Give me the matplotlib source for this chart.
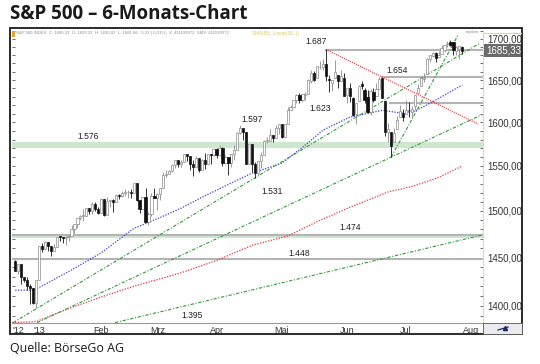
import numpy as np
import pandas as pd
import matplotlib
matplotlib.use('Agg')
import matplotlib.pyplot as plt
from matplotlib.ticker import FixedLocator, NullFormatter
from matplotlib.patches import Rectangle
from matplotlib.lines import Line2D

# Handelstage 19.12.2012 - 29.07.2013
holidays = ['2012-12-25', '2013-01-01', '2013-01-21', '2013-02-18',
            '2013-03-29', '2013-05-27', '2013-07-04']
dates = pd.bdate_range('2012-12-19', '2013-07-29').drop(pd.to_datetime(holidays))

# Tageskerzen S&P 500 (Dez, Jan, Feb, Mrz, Apr, Mai, Jun, Jul)
opens = [1446.79, 1435.81, 1443.67, 1430.15, 1426.66, 1419.83, 1418.10, 1402.43,
         1426.19, 1462.42, 1459.37, 1466.47, 1461.89, 1457.15, 1461.02, 1472.12, 1472.05, 1470.67, 1472.33,
         1472.63, 1480.95, 1485.98, 1492.56, 1494.81, 1494.82, 1502.96, 1500.18, 1507.84, 1501.96,
         1498.11, 1513.17, 1495.71, 1511.29, 1512.12, 1509.39, 1517.93, 1517.01, 1519.43, 1520.33,
         1521.38, 1519.79, 1530.94, 1511.95, 1502.42, 1515.60, 1487.85, 1496.94, 1515.99,
         1514.68, 1518.20, 1525.20, 1539.79, 1541.46, 1544.26, 1551.15, 1556.22, 1552.48, 1554.52,
         1563.21, 1560.70, 1552.10, 1548.34, 1558.71, 1545.90, 1556.89, 1551.69, 1563.75, 1562.86,
         1569.18, 1562.17, 1570.25, 1553.69, 1559.98, 1553.26, 1563.11, 1568.61, 1587.73, 1593.30, 1588.84,
         1552.36, 1574.57, 1552.03, 1541.61, 1555.25, 1562.50, 1578.78, 1578.78, 1585.16, 1582.34, 1593.58,
         1597.55, 1582.77, 1597.60, 1614.40, 1617.55, 1625.95, 1632.69, 1626.69, 1632.10, 1633.75, 1649.13,
         1658.07, 1652.45, 1665.71, 1666.20, 1669.39, 1651.62, 1646.67, 1652.63, 1656.57, 1649.14, 1652.13,
         1631.71, 1640.73, 1629.05, 1609.29, 1625.27, 1644.67, 1638.64, 1629.94, 1612.15, 1635.52,
         1630.64, 1639.77, 1651.83, 1624.62, 1588.62, 1588.77, 1577.52, 1592.27, 1606.44, 1611.12,
         1609.78, 1614.29, 1611.48, 1618.65, 1634.20, 1642.89, 1651.56, 1657.41, 1675.26, 1679.59,
         1682.70, 1677.91, 1681.05, 1686.15, 1694.41, 1696.63, 1695.95, 1685.21, 1687.31, 1690.32]
highs = [1447.75, 1443.70, 1443.67, 1430.15, 1429.42, 1422.80, 1418.10, 1426.74,
         1462.43, 1465.47, 1467.94, 1466.47, 1461.89, 1464.73, 1472.30, 1472.75, 1472.05, 1473.31, 1473.96,
         1485.16, 1485.98, 1492.56, 1496.13, 1502.27, 1503.26, 1503.23, 1509.94, 1509.94, 1504.19,
         1514.41, 1513.17, 1514.96, 1512.53, 1512.90, 1518.31, 1518.31, 1522.29, 1524.69, 1523.14,
         1524.24, 1530.94, 1530.94, 1511.95, 1515.64, 1525.84, 1498.99, 1520.08, 1525.34,
         1519.99, 1525.27, 1543.47, 1545.25, 1545.78, 1552.48, 1556.27, 1556.77, 1556.39, 1563.32,
         1563.62, 1560.70, 1557.25, 1561.56, 1558.71, 1557.74, 1564.91, 1563.95, 1564.07, 1570.28,
         1570.57, 1573.66, 1571.47, 1562.60, 1559.98, 1563.07, 1573.89, 1589.07, 1597.35, 1593.30, 1588.84,
         1575.35, 1574.57, 1554.38, 1555.89, 1565.55, 1579.58, 1583.00, 1592.64, 1585.78, 1596.65, 1597.57,
         1597.55, 1598.60, 1618.46, 1619.77, 1626.03, 1632.78, 1635.01, 1633.70, 1636.00, 1651.10, 1661.49,
         1660.51, 1667.47, 1672.84, 1674.93, 1687.18, 1655.50, 1649.78, 1674.21, 1656.57, 1661.91, 1658.99,
         1640.42, 1646.53, 1629.31, 1622.56, 1644.40, 1648.69, 1640.13, 1637.71, 1639.25, 1640.80,
         1646.50, 1654.19, 1652.45, 1624.62, 1599.19, 1588.77, 1593.79, 1606.83, 1620.07, 1615.94,
         1626.61, 1624.26, 1618.97, 1632.07, 1644.68, 1654.18, 1657.92, 1676.63, 1680.19, 1684.51,
         1683.73, 1684.75, 1693.12, 1692.09, 1697.61, 1698.78, 1695.95, 1690.94, 1691.85, 1690.92]
lows = [1435.80, 1432.82, 1422.58, 1424.66, 1416.43, 1401.80, 1401.58, 1398.11,
        1426.19, 1455.53, 1458.99, 1456.62, 1451.64, 1457.15, 1461.02, 1467.58, 1465.69, 1463.76, 1467.60,
        1472.63, 1475.81, 1481.16, 1489.90, 1489.46, 1494.82, 1496.33, 1496.88, 1500.11, 1496.76,
        1498.11, 1495.02, 1495.71, 1504.71, 1498.49, 1509.39, 1513.61, 1515.61, 1515.93, 1514.02,
        1514.14, 1519.79, 1511.41, 1497.29, 1502.42, 1487.85, 1485.01, 1494.88, 1514.46,
        1501.48, 1512.29, 1525.20, 1538.11, 1541.46, 1542.94, 1547.36, 1548.24, 1548.25, 1554.52,
        1555.74, 1545.13, 1538.57, 1548.34, 1543.55, 1545.90, 1546.22, 1551.69, 1551.90, 1561.08,
        1558.47, 1562.17, 1549.80, 1552.52, 1539.50, 1548.63, 1557.00, 1568.61, 1586.17, 1579.97, 1552.28,
        1552.36, 1543.69, 1536.03, 1539.40, 1548.19, 1562.50, 1575.80, 1578.78, 1577.56, 1582.34, 1586.50,
        1581.28, 1582.77, 1597.60, 1614.21, 1616.64, 1622.70, 1623.09, 1623.71, 1626.74, 1633.75, 1646.68,
        1648.60, 1652.45, 1663.52, 1662.67, 1648.86, 1635.53, 1636.88, 1652.63, 1640.05, 1648.61, 1630.74,
        1622.72, 1623.62, 1607.09, 1598.23, 1625.27, 1639.26, 1622.92, 1610.92, 1608.07, 1623.96,
        1630.34, 1639.77, 1628.91, 1584.32, 1577.70, 1560.33, 1577.09, 1592.27, 1606.44, 1601.06,
        1609.78, 1606.77, 1604.57, 1614.71, 1634.20, 1642.89, 1647.66, 1657.41, 1672.33, 1677.89,
        1671.84, 1677.91, 1681.05, 1684.08, 1690.67, 1691.13, 1680.89, 1680.07, 1676.03, 1681.86]
closes = [1435.81, 1443.69, 1430.15, 1426.66, 1419.83, 1418.10, 1402.43, 1426.19,
          1462.42, 1459.37, 1466.47, 1461.89, 1457.15, 1461.02, 1472.12, 1472.05, 1470.68, 1472.34, 1472.63,
          1480.94, 1485.98, 1492.56, 1494.81, 1494.82, 1502.96, 1500.18, 1507.84, 1501.96, 1498.11,
          1513.17, 1495.71, 1511.29, 1512.12, 1509.39, 1517.93, 1517.01, 1519.43, 1520.33, 1521.38,
          1519.79, 1530.94, 1511.95, 1502.42, 1515.60, 1487.85, 1496.94, 1515.99, 1514.68,
          1518.20, 1525.20, 1539.79, 1541.46, 1544.26, 1551.18, 1556.22, 1552.48, 1554.52, 1563.23,
          1560.70, 1552.10, 1548.34, 1558.71, 1545.80, 1556.89, 1551.69, 1563.77, 1562.85, 1569.19,
          1562.17, 1570.25, 1553.69, 1559.98, 1553.28, 1563.07, 1568.61, 1587.73, 1593.37, 1588.85, 1552.36,
          1574.57, 1552.01, 1541.61, 1555.25, 1562.50, 1578.78, 1578.79, 1585.16, 1582.24, 1593.61, 1597.57,
          1582.70, 1597.59, 1614.42, 1617.50, 1625.96, 1632.69, 1626.67, 1633.70, 1633.77, 1650.34, 1658.78,
          1650.47, 1667.47, 1666.29, 1669.16, 1655.35, 1650.51, 1649.60, 1660.06, 1648.36, 1654.41, 1630.74,
          1640.42, 1631.38, 1608.90, 1622.56, 1643.38, 1642.81, 1626.13, 1612.52, 1636.36, 1626.73,
          1639.04, 1651.81, 1628.93, 1588.19, 1592.43, 1573.09, 1588.03, 1603.26, 1613.20, 1606.28,
          1614.96, 1614.08, 1615.41, 1631.89, 1640.46, 1652.32, 1652.62, 1675.02, 1680.19, 1682.50,
          1676.26, 1680.91, 1689.37, 1692.09, 1695.53, 1692.39, 1685.94, 1690.25, 1691.65, 1685.33]

# gleitende Durchschnitte: Position, Kurs
ma_blue_x = [0, 5, 7, 19, 29, 40, 49, 56, 63, 80, 90, 97, 104, 113, 124, 130, 135, 141, 151]
ma_blue_y = [1416, 1416, 1417, 1437, 1455, 1481, 1493, 1503, 1515, 1542, 1553, 1571, 1591, 1606,
             1614, 1611, 1613, 1624, 1644]
ma_red_x = [-1, 7, 17, 29, 40, 56, 68, 80, 92, 103, 113, 126, 134, 143, 151]
ma_red_y = [1383, 1384, 1396, 1409, 1420, 1434, 1447, 1463, 1473, 1490, 1504, 1521, 1527, 1537, 1550]

# Trendlinien (Start, Ende) als (Position, Kurs)
green_lines = [((-0.7, 1383), (157.0, 1695)),
               ((7.4, 1383), (157.7, 1609)),
               ((33.7, 1383), (157.7, 1474)),
               ((127.0, 1560), (149.6, 1705))]
red_line = ((105.0, 1687), (156.4, 1598))

# horizontale Marken
levels = [1687, 1654, 1623, 1474, 1448]
level_start = [105.0, 124.0, 126.6, -1.2, -1.2]
bands = [(1570.5, 1576.8), (1470.3, 1474.0)]

level_labels = ['1.687', '1.654', '1.623', '1.597', '1.576', '1.531', '1.474', '1.448', '1.395']
label_x = [101.6, 129.0, 103.0, 80.0, 24.6, 86.8, 113.1, 95.9, 59.8]
label_y = [1697.5, 1662, 1615.7, 1602.8, 1583, 1521, 1481.7, 1454, 1390.6]

month_labels = ["'12", "'13", 'Feb', 'Mrz', 'Apr', 'Mai', 'Jun', 'Jul', 'Aug']
month_dates = ['2012-12-20', '2013-01-02', '2013-02-01', '2013-03-01', '2013-04-01',
               '2013-05-01', '2013-06-03', '2013-07-01', '2013-08-01']
y_ticks = [1400, 1450, 1500, 1550, 1600, 1650, 1700]

pos = np.arange(len(dates))
o = np.array(opens); h = np.array(highs); l = np.array(lows); c = np.array(closes)


def xpos(d):
    d = pd.Timestamp(d)
    if d in dates:
        return dates.get_loc(d)
    # nach dem letzten Handelstag weiterzählen
    return len(dates) - 1 + len(pd.bdate_range(dates[-1], d)) - 1


fig = plt.figure(figsize=(5.4, 3.64), dpi=100)
ax = fig.add_axes([12 / 540, 41 / 364, 471 / 540, 294 / 364])
ax.set_yscale('log')
ax.set_xlim(-1.1, 158.0)
ax.set_ylim(1382.6, 1712.4)

for lo, hi in bands:
    ax.axhspan(lo, hi, color='#cfe7cf', lw=0, zorder=1)
for lev, st in zip(levels, level_start):
    ax.plot([st, 158.0], [lev, lev], color='#b4b4b4', lw=1.5, zorder=2)

ax.plot(ma_red_x, ma_red_y, color='#e8323c', lw=0.9, ls=(0, (1, 1.2)), zorder=3)
ax.plot(ma_blue_x, ma_blue_y, color='#3c3cd8', lw=0.9, ls=(0, (1, 1.2)), zorder=3)
for (x0, y0), (x1, y1) in green_lines:
    ax.plot([x0, x1], [y0, y1], color='#2f9a3a', lw=0.8, ls=(0, (3, 1.5, 1, 1.5)), zorder=3)
ax.plot([red_line[0][0], red_line[1][0]], [red_line[0][1], red_line[1][1]],
        color='#e8323c', lw=0.8, ls=(0, (1, 1)), zorder=3)

up = c >= o
ax.vlines(pos[up], l[up], h[up], color='#8c8c8c', lw=0.6, zorder=4)
ax.vlines(pos[~up], l[~up], h[~up], color='#111111', lw=0.6, zorder=4)
bot = np.minimum(o, c)
hgt = np.maximum(np.abs(c - o), 0.4)
ax.bar(pos[up], hgt[up], bottom=bot[up], width=0.75, color='white', edgecolor='#8c8c8c', lw=0.5, zorder=5)
ax.bar(pos[~up], hgt[~up], bottom=bot[~up], width=0.75, color='#111111', edgecolor='#111111', lw=0.5, zorder=5)

for txt, lx, ly in zip(level_labels, label_x, label_y):
    ax.text(lx, ly, txt, fontsize=6.2, ha='center', va='center', color='#222222',
            family='Liberation Sans', zorder=6)

# Achsen
ax.yaxis.tick_right()
ax.yaxis.set_major_locator(FixedLocator(y_ticks))
ax.yaxis.set_major_formatter(matplotlib.ticker.FixedFormatter([f'{v},00' for v in y_ticks]))
ax.yaxis.set_minor_locator(FixedLocator(np.arange(1390, 1711, 10)))
ax.yaxis.set_minor_formatter(NullFormatter())
ax.tick_params(axis='y', which='both', left=True, right=True, direction='in', length=2,
               width=0.6, color='#555555', labelsize=7, labelcolor='#333333', pad=3)
for t in ax.get_yticklabels():
    t.set_family('Liberation Sans')

ax.set_xticks([xpos(d) for d in month_dates])
ax.set_xticklabels(month_labels, family='Liberation Sans', fontsize=6.5, color='#333333')
ax.tick_params(axis='x', length=0, pad=2)

for s in ['top', 'left']:
    ax.spines[s].set_visible(False)
ax.spines['bottom'].set_color('#9a9a9a')
ax.spines['bottom'].set_linewidth(0.8)
ax.spines['right'].set_color('#d8d0a8')
ax.spines['right'].set_linestyle((0, (1, 1.5)))
ax.spines['right'].set_linewidth(0.8)

# Schlusskurs-Marke
ax.text(1.006, closes[-1], '1685,33', transform=ax.get_yaxis_transform(), fontsize=7,
        family='Liberation Sans', color='white', va='center', ha='left',
        bbox=dict(boxstyle='square,pad=0.15', fc='#6a6a6a', ec='none'), zorder=7)

# Rahmen und Beschriftung
fig.patches.append(Rectangle((10 / 540, 30 / 364), 512 / 540, 306 / 364, transform=fig.transFigure,
                             fill=False, ec='#1a1a1a', lw=1.3))
fig.patches.append(Rectangle((483 / 540, 30 / 364), 39 / 540, 11 / 364, transform=fig.transFigure,
                             fc='#ebebef', ec='#555555', lw=0.6))
fig.lines.append(Line2D([498 / 540, 508 / 540], [34 / 364, 37 / 364], transform=fig.transFigure,
                        color='#1c2a6a', lw=0.9))
fig.lines.append(Line2D([505 / 540], [36.5 / 364], transform=fig.transFigure, marker='^',
                        ms=3, color='#1c2a6a'))
fig.lines.append(Line2D([483 / 540, 521 / 540], [1 - 33 / 364, 1 - 33 / 364], transform=fig.transFigure,
                        color='#f0d860', lw=0.8))
fig.patches.append(Rectangle((12 / 540, 1 - 37 / 364), 3 / 540, 6 / 364, transform=fig.transFigure,
                             fc='#f0a030', ec='none'))

fig.text(16 / 540, 1 - 33 / 364,
         'S&P 500 INDEX  C: 1685,33  O: 1690,32  H: 1690,92  L: 1681,86  -5,32 (-0,31%)  V: 411199972  SMV: 411199972',
         fontsize=3.1, color='#8c8c8c', va='center', family='Liberation Sans')
fig.text(252 / 540, 1 - 33 / 364, 'SMA(50), Linear(38, 1)', fontsize=3.3, color='#d8c860',
         va='center', family='Liberation Sans')
fig.text(466 / 540, 1 - 32 / 364, 'explore', fontsize=3, color='#888888', va='center',
         family='Liberation Sans')

fig.text(10 / 540, 1 - 14 / 364, 'S&P 500 – 6-Monats-Chart', fontsize=13.5, fontweight='bold',
         family='Open Sans', va='center', ha='left', color='#1a1a1a')
fig.text(10 / 540, 1 - 348 / 364, 'Quelle: BörseGo AG', fontsize=8.9, family='Open Sans',
         va='center', ha='left', color='#1a1a1a')

fig.savefig('out.png', dpi=100)
